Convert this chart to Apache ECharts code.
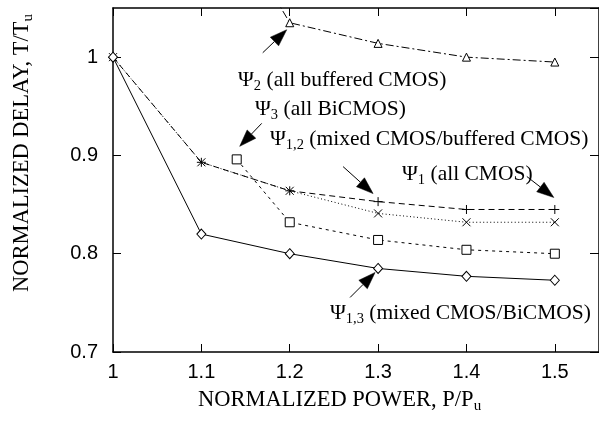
<!DOCTYPE html>
<html>
<head>
<meta charset="utf-8">
<script src="https://cdn.jsdelivr.net/npm/echarts@6/dist/echarts.min.js"></script>
<style>
  html, body { margin: 0; padding: 0; background: #fff; }
  #chart { width: 599px; height: 422px; }
</style>
</head>
<body>
<div id="chart"></div>
<script>
// Normalized power steps (x) and normalized delay for each design style (y)
const power = [1, 1.1, 1.2, 1.3, 1.4, 1.5];
const psi1 = [1, 0.893, 0.864, 0.853, 0.845, 0.845];      // all CMOS
const psi12 = [1, 0.893, 0.864, 0.841, 0.832, 0.832];     // mixed CMOS/buffered CMOS
const psi13 = [1, 0.820, 0.800, 0.785, 0.777, 0.773];     // mixed CMOS/BiCMOS
const psi3Power = [1.14, 1.2, 1.3, 1.4, 1.5];
const psi3 = [0.896, 0.832, 0.814, 0.804, 0.800];         // all BiCMOS
const psi2Power = [1.1, 1.2, 1.3, 1.4, 1.5];
const psi2 = [1.187, 1.035, 1.014, 1.0, 0.995];          // all buffered CMOS

const xTicks = { min: 1, max: 1.55, step: 0.1 };
const yTicks = { min: 0.7, max: 1.05, step: 0.1 };

const SERIF = '"Liberation Serif", "Times New Roman", serif';
const SANS = '"Liberation Sans", Arial, sans-serif';

const pairs = (xs, ys) => xs.map((x, i) => [x, ys[i]]);
const fmt = v => String(+(+v).toFixed(2));

const plus = 'path://M0,5L10,5M5,0L5,10';
const cross = 'path://M0,0L10,10M10,0L0,10';

function lineSeries(name, data, symbol, size, dash) {
  return {
    name, type: 'line', data, symbol, symbolSize: size,
    clip: true, silent: true, animation: false,
    lineStyle: { color: '#000', width: 1, type: dash },
    itemStyle: { color: '#fff', borderColor: '#000', borderWidth: 1 },
    emphasis: { disabled: true }
  };
}

function axisBase(extra) {
  return Object.assign({
    type: 'value',
    axisLine: { show: true, onZero: false, lineStyle: { color: '#000', width: 1.5 } },
    axisTick: { show: true, inside: true, length: 8, lineStyle: { color: '#000', width: 1 } },
    splitLine: { show: false }
  }, extra);
}

const labelStyle = { color: '#000', fontSize: 20, fontFamily: SANS, showMaxLabel: false, formatter: fmt };

const chart = echarts.init(document.getElementById('chart'), null, { renderer: 'canvas' });

chart.setOption({
  animation: false,
  backgroundColor: '#fff',
  grid: { left: 113, right: -3.5, top: 8, bottom: 70, containLabel: false },
  xAxis: [
    axisBase({ min: xTicks.min, max: xTicks.max, interval: xTicks.step, position: 'bottom',
      axisLabel: Object.assign({ margin: 10 }, labelStyle) }),
    axisBase({ min: xTicks.min, max: xTicks.max, interval: xTicks.step, position: 'top',
      axisLabel: { show: false } })
  ],
  yAxis: [
    axisBase({ min: yTicks.min, max: yTicks.max, interval: yTicks.step, position: 'left',
      axisLabel: Object.assign({ margin: 15 }, labelStyle) }),
    axisBase({ min: yTicks.min, max: yTicks.max, interval: yTicks.step, position: 'right',
      axisTick: { show: true, inside: true, length: 9, lineStyle: { color: '#000', width: 1 } },
      axisLabel: { show: false } })
  ],
  series: [
    lineSeries('Ψ1', pairs(power, psi1), plus, 9, [6, 4]),
    lineSeries('Ψ1,2', pairs(power, psi12), cross, 8, [1, 2.5]),
    lineSeries('Ψ1,3', pairs(power, psi13), 'diamond', [9, 10], 'solid'),
    lineSeries('Ψ3', pairs(psi3Power, psi3), 'rect', 9, [3, 4]),
    lineSeries('Ψ2', pairs(psi2Power, psi2), 'triangle', 8, [8, 3, 2, 3])
  ]
});

// Labels with subscripts
const rich = {
  m: { fontFamily: SERIF, fontSize: 21.5, lineHeight: 22, color: '#000' },
  s: { fontFamily: SERIF, fontSize: 14.5, lineHeight: 14, padding: [12, 0, 0, 0], color: '#000' }
};
const titleRich = {
  m: { fontFamily: SERIF, fontSize: 22.5, lineHeight: 22, color: '#000' },
  s: { fontFamily: SERIF, fontSize: 15, lineHeight: 15, padding: [12, 0, 0, 0], color: '#000' }
};

function label(x, y, main, sub, rest) {
  return {
    type: 'text', x, y, silent: true,
    style: {
      text: '{m|' + main + '}{s|' + sub + '}{m|' + rest + '}',
      rich, align: 'left', verticalAlign: 'middle'
    }
  };
}

// Arrow annotations anchored at data points, offsets in pixels
const arrows = [
  { at: [1.2, psi2[1]], tip: [-3, 7], tail: [-27, 30] },
  { at: [psi3Power[0], psi3[0]], tip: [3, -13], tail: [25, -36] },
  { at: [1.3, psi1[3]], tip: [-5, -8], tail: [-35, -35] },
  { at: [1.5, psi1[5]], tip: [-1, -12], tail: [-28, -33] },
  { at: [1.3, psi13[3]], tip: [-3, 4], tail: [-28, 29] }
];

function arrowShapes(a) {
  const p = chart.convertToPixel({ xAxisIndex: 0, yAxisIndex: 0 }, a.at);
  const tx = p[0] + a.tip[0], ty = p[1] + a.tip[1];
  const sx = p[0] + a.tail[0], sy = p[1] + a.tail[1];
  const dx = tx - sx, dy = ty - sy, len = Math.hypot(dx, dy);
  const ux = dx / len, uy = dy / len;
  const L = 17, W = 6;
  const bx = tx - ux * L, by = ty - uy * L;
  return [
    { type: 'line', silent: true, shape: { x1: sx, y1: sy, x2: bx, y2: by },
      style: { stroke: '#000', lineWidth: 1 } },
    { type: 'polygon', silent: true,
      shape: { points: [[tx, ty], [bx - uy * W, by + ux * W], [bx + uy * W, by - ux * W]] },
      style: { fill: '#000', stroke: '#000', lineWidth: 0.5 } }
  ];
}

const graphics = [];
arrows.forEach(a => arrowShapes(a).forEach(g => graphics.push(g)));

graphics.push(
  label(238, 80, 'Ψ', '2', ' (all buffered CMOS)'),
  label(255, 109, 'Ψ', '3', ' (all BiCMOS)'),
  label(270, 139, 'Ψ', '1,2', ' (mixed CMOS/buffered CMOS)'),
  label(402, 174, 'Ψ', '1', ' (all CMOS)'),
  label(330, 313, 'Ψ', '1,3', ' (mixed CMOS/BiCMOS)'),
  {
    type: 'text', x: 198, y: 400, silent: true,
    style: { text: '{m|NORMALIZED POWER, P/P}{s|u}', rich: titleRich, align: 'left', verticalAlign: 'middle' }
  },
  {
    type: 'text', x: 22, y: 153, rotation: Math.PI / 2, silent: true,
    style: { text: '{m|NORMALIZED DELAY, T/T}{s|u}', rich: titleRich, align: 'center', verticalAlign: 'middle' }
  }
);

chart.setOption({ graphic: graphics });
</script>
</body>
</html>
